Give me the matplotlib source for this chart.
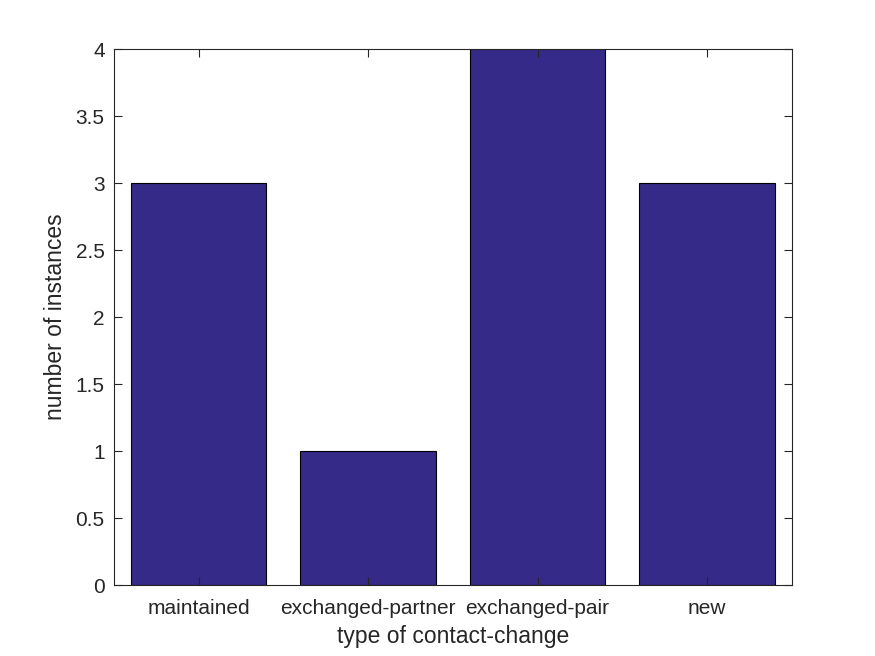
import matplotlib.pyplot as plt

categories = ["maintained", "exchanged-partner", "exchanged-pair", "new"]
counts = [3, 1, 4, 3]

plt.rcParams["font.family"] = ["Liberation Sans", "DejaVu Sans"]

fig = plt.figure(figsize=(8.75, 6.56), dpi=100)
ax = fig.add_axes([0.13, 0.108, 0.775, 0.817])

x = range(1, len(categories) + 1)
ax.bar(x, counts, width=0.8, color="#352a87", edgecolor="black", linewidth=0.8)

ax.set_xlim(0.5, 4.5)
ax.set_ylim(0, 4)
ax.set_xticks(list(x))
ax.set_xticklabels(categories)
ax.set_yticks([0, 0.5, 1, 1.5, 2, 2.5, 3, 3.5, 4])
ax.set_yticklabels(["0", "0.5", "1", "1.5", "2", "2.5", "3", "3.5", "4"])

ax.tick_params(direction="in", top=True, right=True, length=6, width=0.8,
               colors="#262626", labelsize=15)
ax.tick_params(axis="x", pad=10)
ax.tick_params(axis="y", pad=6.5)
for s in ax.spines.values():
    s.set_color("#262626")
    s.set_linewidth(0.8)

ax.set_xlabel("type of contact-change", fontsize=16.5, color="#262626", labelpad=5)
ax.set_ylabel("number of instances", fontsize=16.5, color="#262626", labelpad=6)

fig.savefig("out.png", dpi=100)
